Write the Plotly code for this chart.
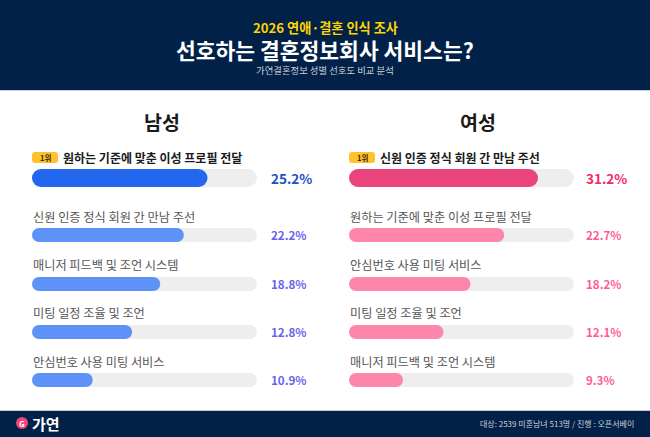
import plotly.graph_objects as go

# ---------- data ----------
male_labels = ["원하는 기준에 맞춘 이성 프로필 전달", "신원 인증 정식 회원 간 만남 주선",
               "매니저 피드백 및 조언 시스템", "미팅 일정 조율 및 조언", "안심번호 사용 미팅 서비스"]
male_values = [25.2, 22.2, 18.8, 12.8, 10.9]
male_fill = [78, 67.5, 57, 44.5, 27]          # bar length, % of track
female_labels = ["신원 인증 정식 회원 간 만남 주선", "원하는 기준에 맞춘 이성 프로필 전달",
                 "안심번호 사용 미팅 서비스", "미팅 일정 조율 및 조언", "매니저 피드백 및 조언 시스템"]
female_values = [31.2, 22.7, 18.2, 12.1, 9.3]
female_fill = [84, 69, 54, 42, 24]            # bar length, % of track
track_full = [100, 100, 100, 100, 100]

# ---------- layout constants ----------
W, H = 650, 437
FONT = "Noto Sans CJK KR"
NAVY = "#012148"
bar_y = [178, 235, 284, 332, 380]
bar_w = [18, 14, 14, 14, 14]
label_y = [157, 217, 265, 313, 362]


def px(x):
    return x / W


def py(y):
    return 1 - y / H


fig = go.Figure()


def pill(vals, colors, xa, ya):
    fig.add_bar(x=vals, base=[0] * len(vals), y=bar_y, width=bar_w, orientation="h", xaxis=xa, yaxis=ya,
                marker=dict(color=colors, cornerradius="50%", line_width=0), hoverinfo="skip")


def note(text, x, y, size, color, weight=400, xanchor="center"):
    return dict(text=text, x=px(x), y=py(y), xref="paper", yref="paper", xanchor=xanchor, yanchor="middle",
                showarrow=False, font=dict(size=size, color=color, family=FONT, weight=weight))


def panel(names, values, fill, xa, ya, c_top, c_rest, v_top, v_rest, left, value_x, head_x, head):
    pill(track_full, ["#EEEEEE"] * 5, xa, ya)
    pill(fill, [c_top] + [c_rest] * 4, xa, ya)
    ann = [note(head, head_x, 121.5, 19.5, "#1A1A1A", 700)]
    for i, (n, v) in enumerate(zip(names, values)):
        ann.append(note(n, left + 29 if i == 0 else left - 1, label_y[i], 12 if i == 0 else 12.2,
                        "#1A1A1A" if i == 0 else "#555555", 700 if i == 0 else 400, "left"))
        ann.append(note(f"{v}%", value_x, bar_y[i] - 0.5, 13.5 if i == 0 else 11.6,
                        v_top if i == 0 else v_rest, 700, "left"))
    ann.append(note("1위", left + 13, 157.5, 7.5, "#3A2A00", 700))
    return ann


annotations = []
annotations += panel(male_labels, male_values, male_fill, "x", "y", "#2267EE", "#5F92F6", "#1D50C8", "#6464EE",
                     32, 268.5, 162, "남성")
annotations += panel(female_labels, female_values, female_fill, "x2", "y2", "#E9457C", "#FF86AB", "#F02A66", "#FF5C96",
                     349, 584, 478, "여성")

annotations += [
    note("2026 연애·결혼 인식 조사", 325, 27, 13.2, "#FFD400", 700),
    note("선호하는 결혼정보회사 서비스는?", 325, 49.5, 21.5, "#FFFFFF", 700),
    note("가연결혼정보 성별 선호도 비교 분석", 325, 70, 9.4, "#C9CFD9"),
    note("가연", 30, 423, 15, "#FFFFFF", 700, "left"),
    note("G", 22, 423, 8, "#FFFFFF", 700),
    note("대상: 2539 미혼남녀 513명 / 진행 : 오픈서베이", 636, 423, 8, "#C9CFD9", 400, "right"),
]


def rect(x0, y0, x1, y1, color):
    return dict(type="rect", xref="paper", yref="paper", x0=px(x0), x1=px(x1), y0=py(y1), y1=py(y0),
                fillcolor=color, line_width=0, layer="below")


def badge(x0, y0, x1, y1, color, r=3):
    xs = [px(v) for v in (x0, x0 + r, x1 - r, x1)]
    ys = [py(v) for v in (y0, y0 + r, y1 - r, y1)]
    path = (f"M{xs[1]},{ys[0]} L{xs[2]},{ys[0]} Q{xs[3]},{ys[0]} {xs[3]},{ys[1]} L{xs[3]},{ys[2]} "
            f"Q{xs[3]},{ys[3]} {xs[2]},{ys[3]} L{xs[1]},{ys[3]} Q{xs[0]},{ys[3]} {xs[0]},{ys[2]} "
            f"L{xs[0]},{ys[1]} Q{xs[0]},{ys[0]} {xs[1]},{ys[0]} Z")
    return dict(type="path", xref="paper", yref="paper", path=path, fillcolor=color, line_width=0, layer="below")


shapes = [
    rect(0, 0, W, 90, NAVY),
    rect(0, 90, W, 91, "#C8CED6"),
    rect(0, 410, W, 411, "#C8CED6"),
    rect(0, 411, W, H, NAVY),
    badge(32, 152, 58, 163, "#FFC22E"),
    badge(349, 152, 375, 163, "#FFC22E"),
    dict(type="circle", xref="paper", yref="paper", x0=px(16), x1=px(28), y0=py(429), y1=py(417),
         fillcolor="#F0457C", line_width=0, layer="below"),
]

hidden = dict(showgrid=False, zeroline=False, showticklabels=False, ticks="", showline=False, fixedrange=True)
fig.update_layout(
    width=W, height=H, margin=dict(l=0, r=0, t=0, b=0), showlegend=False, barmode="overlay",
    paper_bgcolor="#FFFFFF", plot_bgcolor="rgba(0,0,0,0)", annotations=annotations, shapes=shapes,
    xaxis=dict(domain=[px(32), px(257)], range=[0, 100], **hidden),
    xaxis2=dict(domain=[px(349), px(574)], range=[0, 100], **hidden),
    yaxis=dict(domain=[0, 1], range=[H, 0], anchor="x", **hidden),
    yaxis2=dict(domain=[0, 1], range=[H, 0], anchor="x2", **hidden),
)
fig.write_html("out.html", config={"displayModeBar": False},
               post_script="document.body.style.margin='0';document.body.style.overflow='hidden';")
